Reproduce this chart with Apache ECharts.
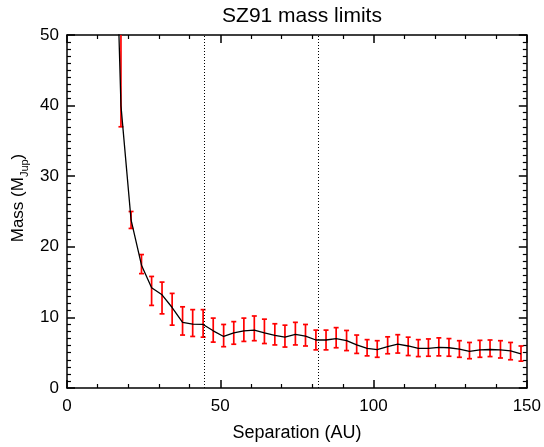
<!DOCTYPE html>
<html>
<head>
<meta charset="utf-8">
<script src="https://cdn.jsdelivr.net/npm/echarts@6/dist/echarts.min.js"></script>
<style>html,body{margin:0;padding:0;background:#fff}#c{width:544px;height:447px}</style>
</head>
<body>
<div id="c"></div>
<script>
// Separation (AU) of each sample
const sep = [14.2, 17.6, 20.9, 24.3, 27.6, 31.0, 34.3, 37.7, 41.0, 44.4, 47.7,
  51.1, 54.4, 57.7, 61.1, 64.4, 67.8, 71.1, 74.5, 77.8, 81.2,
  84.5, 87.8, 91.2, 94.5, 97.9, 101.2, 104.6, 107.9, 111.3, 114.6,
  117.9, 121.3, 124.6, 128.0, 131.3, 134.7, 138.0, 141.4, 144.7, 148.1];
// Mass limit curve (M_Jup)
const massLine = [92, 40.0, 23.8, 17.4, 14.2, 13.2, 11.4, 9.3, 9.05, 9.0, 8.1,
  7.3, 7.8, 8.1, 8.2, 7.8, 7.45, 7.2, 7.6, 7.35, 6.8,
  6.8, 7.0, 6.7, 6.1, 5.6, 5.45, 5.85, 6.2, 5.95, 5.6,
  5.6, 5.75, 5.7, 5.5, 5.2, 5.4, 5.45, 5.4, 5.25, 4.85];
// Error bar lower / upper ends (M_Jup)
const errLow = [null, 37.0, 22.6, 16.2, 11.7, 10.5, 8.9, 7.5, 7.3, 7.2, 6.5,
  5.85, 6.2, 6.6, 6.7, 6.3, 6.1, 5.8, 6.1, 5.95, 5.4,
  5.4, 5.7, 5.3, 4.9, 4.55, 4.35, 4.85, 4.95, 4.6, 4.45,
  4.5, 4.55, 4.5, 4.35, 4.15, 4.35, 4.45, 4.25, 4.0, 3.8];
const errHigh = [null, 60, 25.0, 18.9, 15.8, 15.0, 13.4, 11.5, 11.1, 11.1, 9.9,
  9.0, 9.4, 9.9, 10.2, 9.75, 9.1, 8.9, 9.3, 9.0, 8.2,
  8.2, 8.55, 8.15, 7.5, 6.85, 6.7, 7.25, 7.55, 7.2, 6.85,
  6.95, 7.1, 7.0, 6.7, 6.45, 6.75, 6.8, 6.7, 6.45, 5.95];
// Vertical dotted reference lines (AU)
const dottedLines = [44.8, 82.0];
// Axis settings
const xTicks = [0, 50, 100, 150];
const yTicks = [0, 10, 20, 30, 40, 50];

const FONT = '"Liberation Sans", Arial, Helvetica, sans-serif';
const lineData = sep.map((s, i) => [s, massLine[i]]);
const barData = [];
sep.forEach((s, i) => { if (errLow[i] !== null) barData.push([s, errLow[i], errHigh[i]]); });

const chart = echarts.init(document.getElementById('c'), null, {renderer: 'canvas'});

function axisCommon(isX, pos, showLabel) {
  const ticks = isX ? xTicks : yTicks;
  return {
    type: 'value',
    position: pos,
    min: ticks[0],
    max: ticks[ticks.length - 1],
    interval: ticks[1] - ticks[0],
    axisLine: {show: true, onZero: false, lineStyle: {color: '#000', width: 1.5}},
    axisTick: {show: true, inside: true, length: 8, lineStyle: {color: '#000', width: 1.5}},
    minorTick: {show: true, splitNumber: isX ? 5 : 10, length: 4, lineStyle: {color: '#000', width: 1.2}},
    splitLine: {show: false},
    axisLabel: {show: showLabel, color: '#000', fontSize: 17, fontFamily: FONT, margin: isX ? 10 : 8}
  };
}

const xBottom = Object.assign(axisCommon(true, 'bottom', true), {
  name: 'Separation (AU)', nameLocation: 'middle', nameGap: 36,
  nameTextStyle: {color: '#000', fontSize: 18, fontFamily: FONT}
});
const xTop = axisCommon(true, 'top', false);
const yLeft = axisCommon(false, 'left', true);
const yRight = axisCommon(false, 'right', false);

chart.setOption({
  animation: false,
  backgroundColor: '#fff',
  title: {
    text: 'SZ91 mass limits', left: 297, top: 1, textAlign: 'center',
    textStyle: {color: '#000', fontSize: 21, fontWeight: 'normal', fontFamily: FONT}
  },
  grid: {left: 67, right: 17, top: 35, bottom: 48.5, containLabel: false},
  xAxis: [xBottom, xTop],
  yAxis: [yLeft, yRight],
  graphic: [{
    type: 'text', x: 18, y: 198, rotation: Math.PI / 2,
    style: {
      text: 'Mass (M{sub|Jup})', align: 'center', verticalAlign: 'middle',
      fill: '#000', fontSize: 17, fontFamily: FONT, lineHeight: 24,
      rich: {sub: {fontSize: 11, fontFamily: FONT, fill: '#000', lineHeight: 10, verticalAlign: 'bottom'}}
    }
  }],
  series: [
    {
      type: 'custom',
      xAxisIndex: 0, yAxisIndex: 0,
      clip: true,
      data: barData,
      z: 2,
      renderItem: function (params, api) {
        const x = api.value(0), lo = api.value(1), hi = api.value(2);
        const pLo = api.coord([x, lo]);
        const pHi = api.coord([x, hi]);
        const top = params.coordSys.y;
        const cap = 2.5;
        const style = {stroke: '#ff0000', lineWidth: 1.7};
        const children = [];
        let yHi = pHi[1];
        const hiVisible = yHi >= top;
        if (!hiVisible) yHi = top;
        children.push({type: 'line', shape: {x1: pLo[0], y1: pLo[1], x2: pHi[0], y2: yHi}, style: style});
        children.push({type: 'line', shape: {x1: pLo[0] - cap, y1: pLo[1], x2: pLo[0] + cap, y2: pLo[1]}, style: style});
        if (hiVisible) children.push({type: 'line', shape: {x1: pHi[0] - cap, y1: yHi, x2: pHi[0] + cap, y2: yHi}, style: style});
        return {type: 'group', children: children};
      }
    },
    {
      type: 'line',
      xAxisIndex: 0, yAxisIndex: 0,
      data: lineData,
      showSymbol: false,
      symbol: 'none',
      clip: true,
      z: 3,
      lineStyle: {color: '#000', width: 1.3},
      markLine: {
        silent: true,
        symbol: ['none', 'none'],
        label: {show: false},
        lineStyle: {color: '#000', width: 1, type: [1, 2]},
        data: dottedLines.map(v => ({xAxis: v}))
      }
    }
  ]
});
</script>
</body>
</html>
